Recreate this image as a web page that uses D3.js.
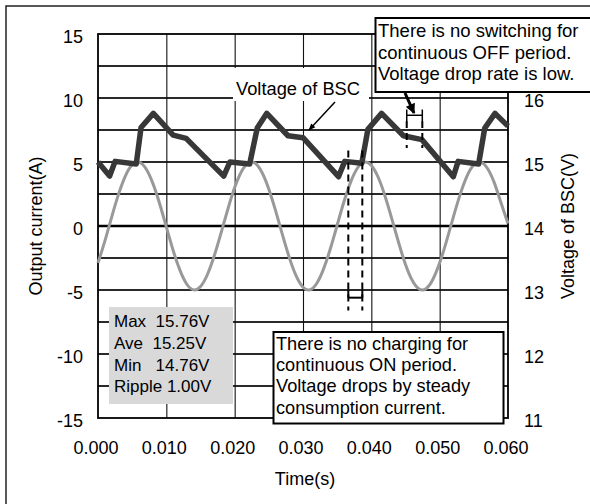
<!DOCTYPE html>
<html><head><meta charset="utf-8">
<script src="https://cdn.jsdelivr.net/npm/d3@7"></script>
<style>
html,body{margin:0;padding:0;background:#fff;}
svg{display:block;font-family:"Liberation Sans",Arial,sans-serif;}
text{white-space:pre;}
</style></head>
<body>
<svg id="chart" width="590" height="504"></svg>
<script>
// ---------- data ----------
const timeTicks = [0, 0.01, 0.02, 0.03, 0.04, 0.05, 0.06];
const timeTickLabels = ["0.000", "0.010", "0.020", "0.030", "0.040", "0.050", "0.060"];
const currentTicks = [-15, -10, -5, 0, 5, 10, 15];
const gridLevels = [-12.5, -10, -7.5, -5, -2.5, 2.5, 5, 7.5, 10, 12.5];
const voltTicks = [11, 12, 13, 14, 15, 16]; // 17 is hidden behind the note box

// Output current (grey line)
const currentTime = [0.000,0.001,0.002,0.003,0.004,0.005,0.006,0.007,0.008,0.009,
  0.010,0.011,0.012,0.013,0.014,0.015,0.016,0.017,0.018,0.019,
  0.020,0.021,0.022,0.023,0.024,0.025,0.026,0.027,0.028,0.029,
  0.030,0.031,0.032,0.033,0.034,0.035,0.036,0.037,0.038,0.039,
  0.040,0.041,0.042,0.043,0.044,0.045,0.046,0.047,0.048,0.049,
  0.050,0.051,0.052,0.053,0.054,0.055,0.056,0.057,0.058,0.059,0.060];
const currentValue = [-2.88,-1.18,0.70,2.47,3.90,4.78,4.99,4.49,3.37,1.78,
  -0.07,-1.91,-3.47,-4.55,-4.99,-4.73,-3.81,-2.35,-0.56,1.31,
  3.00,4.26,4.92,4.90,4.18,2.88,1.18,-0.70,-2.47,-3.90,
  -4.78,-4.99,-4.49,-3.37,-1.78,0.07,1.91,3.47,4.55,4.99,
  4.73,3.81,2.35,0.56,-1.31,-3.00,-4.26,-4.92,-4.90,-4.18,
  -2.88,-1.18,0.70,2.47,3.90,4.78,4.99,4.49,3.37,1.78,0.20];

// Voltage of BSC (dark line, right axis)
const voltTime = [0.0000,0.0017,0.0025,0.0056,0.0063,0.0081,0.0110,0.0129,0.0184,0.0193,
  0.0222,0.0233,0.0247,0.0278,0.0300,0.0352,0.0361,0.0386,0.0395,0.0415,
  0.0447,0.0474,0.0520,0.0527,0.0557,0.0566,0.0581,0.0600];
const voltValue = [15.00,14.78,15.01,14.97,15.54,15.76,15.42,15.37,14.78,15.00,
  14.97,15.53,15.76,15.41,15.38,14.77,15.01,14.98,15.51,15.76,
  15.41,15.35,14.77,15.01,14.97,15.53,15.76,15.56];

const statLines = ["Max  15.76V", "Ave  15.25V", "Min   14.76V", "Ripple 1.00V"];
const noteTop = ["There is no switching for", "continuous OFF period.", "Voltage drop rate is low."];
const noteBottom = ["There is no charging for", "continuous ON period.", "Voltage drops by steady", "consumption current."];
// annotation marker times (s) : ON period pair and OFF period pair
const onPeriod = [0.03663, 0.03868];
const offPeriod = [0.04518, 0.04746];

// ---------- drawing ----------
const svg = d3.select("#chart");
const L = 98, R = 508, T = 34, B = 418;
const x = d3.scaleLinear().domain([0, 0.06]).range([L, R]);
const y = d3.scaleLinear().domain([-15, 15]).range([B, T]);
const y2 = d3.scaleLinear().domain([11, 17]).range([B, T]);

// outer frame
svg.append("rect").attr("x", 6).attr("y", 6).attr("width", 620).attr("height", 540)
  .attr("fill", "none").attr("stroke", "#222").attr("stroke-width", 1.5);

// horizontal gridlines via axis
const hAxis = svg.append("g").attr("transform", `translate(${L},0)`)
  .call(d3.axisLeft(y).tickValues(gridLevels).tickSize(-(R - L)).tickFormat("").offset(0));
hAxis.select(".domain").remove();
hAxis.selectAll(".tick line").attr("stroke", "#2a2a2a").attr("stroke-width", 1.8);

// vertical gridlines via axis
const vAxis = svg.append("g").attr("transform", `translate(0,${B})`)
  .call(d3.axisBottom(x).tickValues(timeTicks.slice(1, -1)).tickSize(-(B - T)).tickFormat(""));
vAxis.select(".domain").remove();
vAxis.selectAll(".tick line").attr("stroke", "#111").attr("stroke-width", 1.1);

// zero line
svg.append("line").attr("x1", L).attr("x2", R).attr("y1", y(0)).attr("y2", y(0))
  .attr("stroke", "#000").attr("stroke-width", 2.6);
// plot frame
svg.append("rect").attr("x", L).attr("y", T).attr("width", R - L).attr("height", B - T)
  .attr("fill", "none").attr("stroke", "#000").attr("stroke-width", 1.8);

// current line
const curData = currentTime.map((t, i) => [t, currentValue[i]]);
svg.append("path").datum(curData)
  .attr("d", d3.line().x(d => x(d[0])).y(d => y(d[1])).curve(d3.curveNatural))
  .attr("fill", "none").attr("stroke", "#999999").attr("stroke-width", 3);

// voltage line
const vData = voltTime.map((t, i) => [t, voltValue[i]]);
svg.append("path").datum(vData)
  .attr("d", d3.line().x(d => x(d[0])).y(d => y2(d[1])))
  .attr("fill", "none").attr("stroke", "#383838").attr("stroke-width", 5.5)
  .attr("stroke-linejoin", "round").attr("stroke-linecap", "butt");

// dashed markers
const dash = svg.append("g").attr("stroke", "#000").attr("stroke-width", 2).attr("fill", "none");
onPeriod.forEach(t => {
  dash.append("line").attr("x1", x(t)).attr("x2", x(t)).attr("y1", y(5.9)).attr("y2", y(-6.6))
    .attr("stroke-dasharray", "7,5");
  dash.append("line").attr("x1", x(t)).attr("x2", x(t)).attr("y1", y(-5.0)).attr("y2", y(-5.6));
});
dash.append("line").attr("x1", x(onPeriod[0])).attr("x2", x(onPeriod[1])).attr("y1", y(-5.6)).attr("y2", y(-5.6));
offPeriod.forEach(t => {
  dash.append("line").attr("x1", x(t)).attr("x2", x(t)).attr("y1", y(8.2)).attr("y2", y(6.1))
    .attr("stroke-dasharray", "7,5");
  dash.append("line").attr("x1", x(t)).attr("x2", x(t)).attr("y1", y(9.1)).attr("y2", y(8.2)).attr("stroke-width", 1.5);
});
dash.append("line").attr("x1", x(offPeriod[0])).attr("x2", x(offPeriod[1])).attr("y1", y(8.65)).attr("y2", y(8.65)).attr("stroke-width", 1.5);

// tick labels
const fs = 18;
svg.append("g").selectAll("text").data(currentTicks).join("text")
  .attr("x", 83).attr("y", d => y(d) + 9).attr("text-anchor", "end")
  .attr("font-size", fs).attr("fill", "#000").text(d => d);
svg.append("g").selectAll("text").data(voltTicks).join("text")
  .attr("x", 524).attr("y", d => y2(d) + 9).attr("text-anchor", "start")
  .attr("font-size", fs).attr("fill", "#000").text(d => d);
svg.append("g").selectAll("text").data(timeTicks).join("text")
  .attr("x", d => x(d) - 2).attr("y", 454).attr("text-anchor", "middle")
  .attr("font-size", fs).attr("fill", "#000").text((d, i) => timeTickLabels[i]);

// axis titles
svg.append("text").attr("transform", `translate(42,${(T + B) / 2}) rotate(-90)`)
  .attr("text-anchor", "middle").attr("font-size", 18).text("Output current(A)");
svg.append("text").attr("transform", `translate(574,${(T + B) / 2}) rotate(-90)`)
  .attr("text-anchor", "middle").attr("font-size", 18).text("Voltage of BSC(V)");
svg.append("text").attr("x", 305).attr("y", 485).attr("text-anchor", "middle")
  .attr("font-size", 18).text("Time(s)");

// "Voltage of BSC" label with arrow
svg.append("rect").attr("x", 233).attr("y", 68).attr("width", 136).attr("height", 33).attr("fill", "#fff");
svg.append("text").attr("x", 236).attr("y", 95).attr("font-size", 18.3).text("Voltage of BSC");
const defs = svg.append("defs");
defs.append("marker").attr("id", "ah").attr("viewBox", "0 0 10 10").attr("refX", 9).attr("refY", 5)
  .attr("markerWidth", 9).attr("markerHeight", 7).attr("markerUnits", "userSpaceOnUse").attr("orient", "auto")
  .append("path").attr("d", "M0,1 L10,5 L0,9 Z").attr("fill", "#000");
defs.append("marker").attr("id", "ah2").attr("viewBox", "0 0 10 10").attr("refX", 9).attr("refY", 5)
  .attr("markerWidth", 11).attr("markerHeight", 10).attr("markerUnits", "userSpaceOnUse").attr("orient", "auto")
  .append("path").attr("d", "M0,0 L10,5 L0,10 Z").attr("fill", "#000");
svg.append("line").attr("x1", 335).attr("y1", 102).attr("x2", 309).attr("y2", 130)
  .attr("stroke", "#000").attr("stroke-width", 1.5).attr("marker-end", "url(#ah)");

// top-right note box
svg.append("rect").attr("x", 375.5).attr("y", 18).attr("width", 240).attr("height", 74)
  .attr("fill", "#fff").attr("stroke", "#000").attr("stroke-width", 2);
svg.append("g").selectAll("text").data(noteTop).join("text")
  .attr("x", 378).attr("y", (d, i) => 37 + i * 21.5).attr("font-size", 18.5).text(d => d);
svg.append("line").attr("x1", 405).attr("y1", 93).attr("x2", 414).attr("y2", 113)
  .attr("stroke", "#000").attr("stroke-width", 3).attr("marker-end", "url(#ah2)");

// stats box
svg.append("rect").attr("x", 109).attr("y", 307).attr("width", 124).attr("height", 97).attr("fill", "#d9d9d9");
svg.append("g").selectAll("text").data(statLines).join("text")
  .attr("x", 114).attr("y", (d, i) => 327 + i * 21.8).attr("font-size", 17).text(d => d);

// bottom note box
svg.append("rect").attr("x", 273.5).attr("y", 332).attr("width", 230).attr("height", 91.5)
  .attr("fill", "#fff").attr("stroke", "#000").attr("stroke-width", 2);
svg.append("g").selectAll("text").data(noteBottom).join("text")
  .attr("x", 276).attr("y", (d, i) => 350 + i * 21.2).attr("font-size", 18.2).text(d => d);
</script>
</body></html>
